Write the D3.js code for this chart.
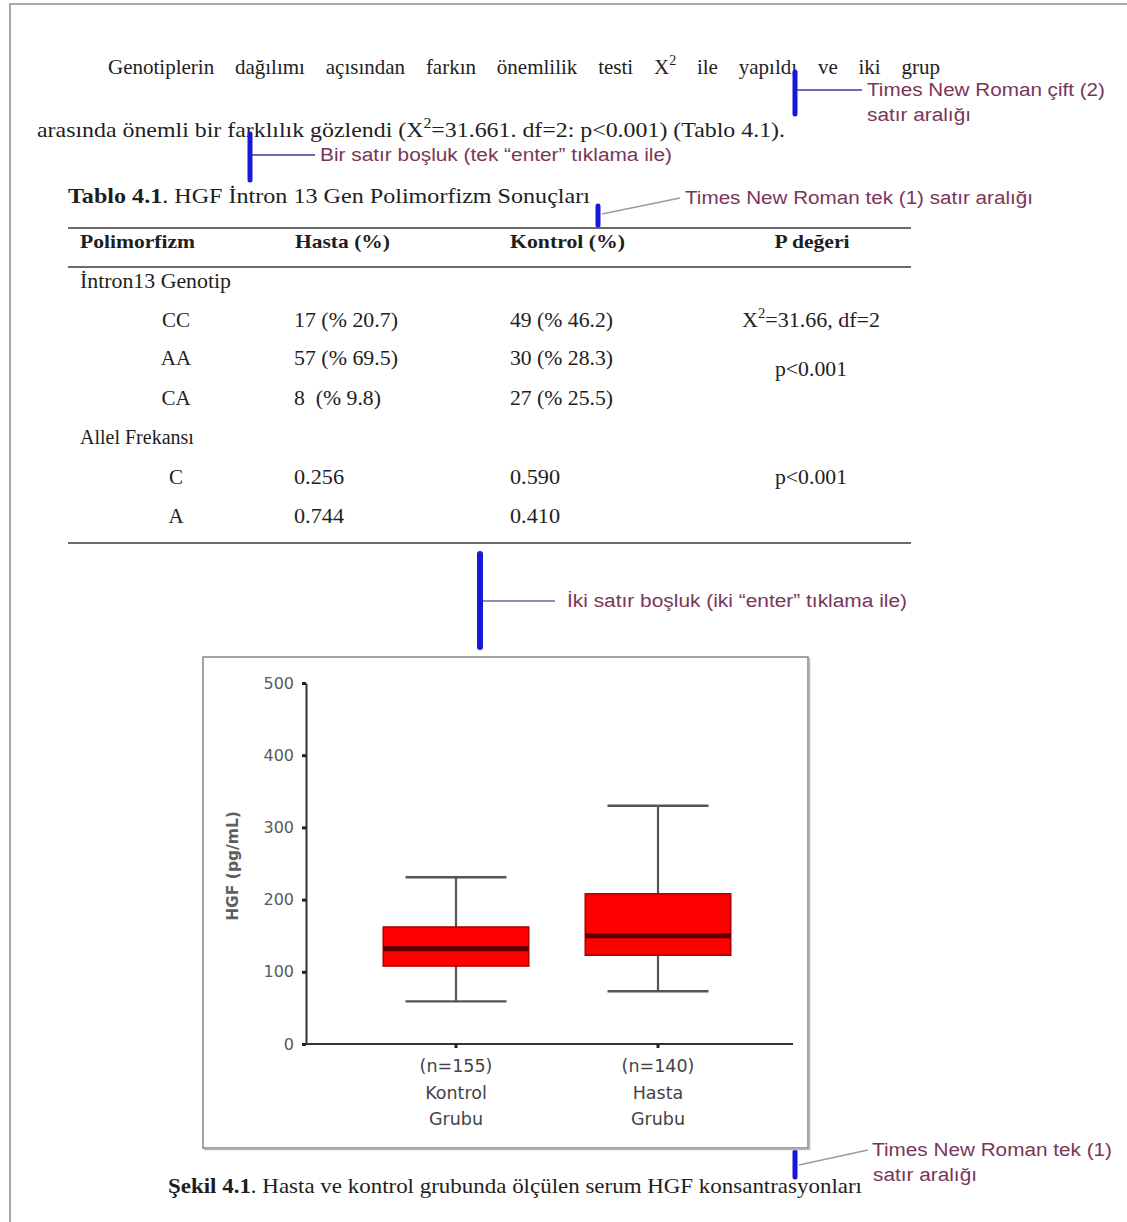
<!DOCTYPE html>
<html><head><meta charset="utf-8">
<script src="https://cdn.jsdelivr.net/npm/d3@7"></script>
<style>html,body{margin:0;padding:0;background:#fff;} svg{display:block}</style>
</head><body>
<svg id="page" width="1127" height="1222"></svg>
<script>
// ---------- data ----------
const groups = ["Kontrol Grubu", "Hasta Grubu"];
const groupLabels = [["(n=155)", "Kontrol", "Grubu"], ["(n=140)", "Hasta", "Grubu"]];
const whiskerLow = [59, 73];
const q1 = [108, 123];
const median = [132, 150];
const q3 = [162, 208];
const whiskerHigh = [231, 330];
const yTicks = [0, 100, 200, 300, 400, 500];
const yLabel = "HGF (pg/mL)";

const tableHeader = ["Polimorfizm", "Hasta (%)", "Kontrol (%)", "P değeri"];
const genotypes = ["CC", "AA", "CA"];
const genoHasta = ["17 (% 20.7)", "57 (% 69.5)", "8  (% 9.8)"];
const genoKontrol = ["49 (% 46.2)", "30 (% 28.3)", "27 (% 25.5)"];
const alleles = ["C", "A"];
const alleleHasta = ["0.256", "0.744"];
const alleleKontrol = ["0.590", "0.410"];

// ---------- helpers ----------
const svg = d3.select("#page");
const SERIF = "'Liberation Serif','Times New Roman',serif";
const SANS = "'Liberation Sans',Arial,sans-serif";
const CHART = "'DejaVu Sans',Verdana,sans-serif";
const ANN = "#7a3658";
const BLUE = "#1818d8";

function fit(sel, w) {
  const n = sel.node();
  const L = n.getComputedTextLength();
  if (L > 0) sel.attr("textLength", w).attr("lengthAdjust", "spacingAndGlyphs");
  return sel;
}
function txt(x, y, s, o = {}) {
  const t = svg.append("text").attr("x", x).attr("y", y)
    .attr("font-family", o.family || SERIF)
    .attr("font-size", o.size || 21)
    .attr("font-weight", o.weight || "normal")
    .attr("fill", o.fill || "#1e1e1e")
    .attr("text-anchor", o.anchor || "start")
    .style("white-space", "pre")
    .text(s);
  if (o.w) fit(t, o.w);
  return t;
}

// ---------- page border ----------
svg.append("path").attr("d", "M10,1222V4H1127").attr("fill", "none")
  .attr("stroke", "#a8a8a8").attr("stroke-width", 2);

// ---------- paragraph ----------
const l1 = svg.append("text").attr("x", 108).attr("y", 74)
  .attr("font-family", SERIF).attr("font-size", 21).attr("fill", "#1e1e1e");
l1.append("tspan").text("Genotiplerin dağılımı açısından farkın önemlilik testi X");
l1.append("tspan").attr("font-size", 14).attr("dy", -9).text("2");
l1.append("tspan").attr("dy", 9).text(" ile yapıldı ve iki grup");
{
  const L = l1.node().getComputedTextLength();
  const ws = Math.max(0, (832 - L) / 11);
  l1.attr("word-spacing", ws);
}
const l2 = svg.append("text").attr("x", 37).attr("y", 137)
  .attr("font-family", SERIF).attr("font-size", 21).attr("fill", "#1e1e1e");
l2.append("tspan").text("arasında önemli bir farklılık gözlendi (X");
l2.append("tspan").attr("font-size", 14).attr("dy", -9).text("2");
l2.append("tspan").attr("dy", 9).text("=31.661. df=2: p<0.001) (Tablo 4.1).");
fit(l2, 748);

// ---------- table title ----------
const tt = svg.append("text").attr("x", 68).attr("y", 203)
  .attr("font-family", SERIF).attr("font-size", 21).attr("fill", "#1e1e1e");
tt.append("tspan").attr("font-weight", "bold").text("Tablo 4.1");
tt.append("tspan").text(". HGF İntron 13 Gen Polimorfizm Sonuçları");
fit(tt, 522);

// ---------- table ----------
[228, 267, 543].forEach(y => svg.append("line").attr("x1", 68).attr("x2", 911)
  .attr("y1", y).attr("y2", y).attr("stroke", "#6a6a6a").attr("stroke-width", 2));

const colX = [80, 295, 510, 812];
txt(colX[0], 248, tableHeader[0], {weight: "bold", size: 19, w: 115});
txt(colX[1], 248, tableHeader[1], {weight: "bold", size: 19, w: 95});
txt(colX[2], 248, tableHeader[2], {weight: "bold", size: 19, w: 115});
txt(colX[3], 248, tableHeader[3], {weight: "bold", size: 19, anchor: "middle", w: 75});

txt(80, 288, "İntron13 Genotip", {size: 21, w: 151});
const genoY = [327, 365, 405];
genotypes.forEach((g, i) => {
  txt(176, genoY[i], g, {size: 21, anchor: "middle"});
  txt(294, genoY[i], genoHasta[i], {size: 21, w: i === 2 ? 87 : 104});
  txt(510, genoY[i], genoKontrol[i], {size: 21, w: 103});
});
{
  const t = svg.append("text").attr("x", 811).attr("y", 327).attr("text-anchor", "middle")
    .attr("font-family", SERIF).attr("font-size", 21).attr("fill", "#1e1e1e");
  t.append("tspan").text("X");
  t.append("tspan").attr("font-size", 14).attr("dy", -9).text("2");
  t.append("tspan").attr("dy", 9).text("=31.66, df=2");
  fit(t, 138);
}
txt(811, 376, "p<0.001", {size: 21, anchor: "middle", w: 72});
txt(80, 444, "Allel Frekansı", {size: 20});
const alleleY = [484, 523];
alleles.forEach((a, i) => {
  txt(176, alleleY[i], a, {size: 21, anchor: "middle"});
  txt(294, alleleY[i], alleleHasta[i], {size: 21, w: 50});
  txt(510, alleleY[i], alleleKontrol[i], {size: 21, w: 50});
});
txt(811, 484, "p<0.001", {size: 21, anchor: "middle", w: 72});

// ---------- annotations ----------
function bar(x, y1, y2, w) {
  svg.append("line").attr("x1", x).attr("x2", x).attr("y1", y1).attr("y2", y2)
    .attr("stroke", BLUE).attr("stroke-width", w || 5).attr("stroke-linecap", "round");
}
function conn(x1, y1, x2, y2, c) {
  svg.append("line").attr("x1", x1).attr("y1", y1).attr("x2", x2).attr("y2", y2)
    .attr("stroke", c || "#3a3aa0").attr("stroke-width", 1.3);
}
// 1
bar(795, 72, 114);
conn(797, 90, 862, 90);
txt(867, 96, "Times New Roman çift (2)", {family: SANS, size: 18, fill: ANN, w: 238});
txt(867, 121, "satır aralığı", {family: SANS, size: 18, fill: ANN, w: 104});
// 2
bar(250, 134, 180);
conn(252, 155, 315, 155);
txt(320, 161, "Bir satır boşluk (tek “enter” tıklama ile)", {family: SANS, size: 18, fill: ANN, w: 352});
// 3
bar(598, 206, 225);
conn(602, 214, 680, 198, "#9a9aa8");
txt(685, 204, "Times New Roman tek (1) satır aralığı", {family: SANS, size: 18, fill: ANN, w: 348});
// 4
bar(480, 554, 647, 6);
conn(483, 601, 555, 601, "#6a6aa0");
txt(567, 607, "İki satır boşluk (iki “enter” tıklama ile)", {family: SANS, size: 18, fill: ANN, w: 340});
// 5
bar(795, 1152, 1177);
conn(799, 1165, 868, 1150, "#9a9aa8");
txt(872, 1156, "Times New Roman tek (1)", {family: SANS, size: 18, fill: ANN, w: 240});
txt(873, 1181, "satır aralığı", {family: SANS, size: 18, fill: ANN, w: 104});

// ---------- chart frame ----------
svg.append("rect").attr("x", 203).attr("y", 657).attr("width", 605).attr("height", 491)
  .attr("fill", "#fff").attr("stroke", "#8c8c8c").attr("stroke-width", 1.6);
svg.append("path").attr("d", "M204,1149.5H809.5V658").attr("fill", "none")
  .attr("stroke", "#b8b8b8").attr("stroke-width", 1.5);

// ---------- chart ----------
const y = d3.scaleLinear().domain([0, 500]).range([1044, 683]);
const x = d3.scaleBand().domain(groups).range([355, 759]).padding(0);
const bw = x.bandwidth();
const cx = g => x(g) + bw / 2;

const yAxis = svg.append("g").attr("transform", "translate(306,0)")
  .call(d3.axisLeft(y).tickValues(yTicks).tickSize(4).tickSizeOuter(0).tickPadding(8));
yAxis.select(".domain").attr("stroke", "#333").attr("stroke-width", 2);
yAxis.selectAll(".tick line").attr("stroke", "#222").attr("stroke-width", 3);
yAxis.selectAll(".tick text").attr("font-family", CHART).attr("font-size", 16).attr("fill", "#5a5a5a");

const xAxis = svg.append("g").attr("transform", "translate(0,1044)")
  .call(d3.axisBottom(x).tickSize(4).tickSizeOuter(0));
xAxis.select(".domain").attr("d", "M306,0H793").attr("stroke", "#333").attr("stroke-width", 2);
xAxis.selectAll(".tick line").attr("stroke", "#222").attr("stroke-width", 3);
xAxis.selectAll(".tick text").remove();
xAxis.selectAll(".tick").each(function(d, i) {
  const t = d3.select(this).append("text").attr("fill", "#444")
    .attr("font-family", CHART).attr("font-size", 17.5).attr("text-anchor", "middle");
  groupLabels[i].forEach((s, j) => t.append("tspan").attr("x", 0).attr("y", 28 + j * 26.5).text(s));
});

svg.append("text").attr("transform", `translate(238,866) rotate(-90)`)
  .attr("text-anchor", "middle").attr("font-family", CHART).attr("font-size", 15.5)
  .attr("font-weight", "bold").attr("fill", "#5e5e5e").text(yLabel);

const boxes = svg.append("g").selectAll("g").data(groups).join("g");
// whiskers
boxes.append("line").attr("x1", cx).attr("x2", cx)
  .attr("y1", (d, i) => y(whiskerHigh[i])).attr("y2", (d, i) => y(whiskerLow[i]))
  .attr("stroke", "#555").attr("stroke-width", 2.2);
[whiskerHigh, whiskerLow].forEach(arr => boxes.append("line")
  .attr("x1", d => cx(d) - bw * 0.25).attr("x2", d => cx(d) + bw * 0.25)
  .attr("y1", (d, i) => y(arr[i])).attr("y2", (d, i) => y(arr[i]))
  .attr("stroke", "#555").attr("stroke-width", 2.4));
// boxes
boxes.append("rect").attr("x", d => cx(d) - bw * 0.36).attr("width", bw * 0.72)
  .attr("y", (d, i) => y(q3[i])).attr("height", (d, i) => y(q1[i]) - y(q3[i]))
  .attr("fill", "#ff0000").attr("stroke", "#b00000").attr("stroke-width", 1.6);
boxes.append("line").attr("x1", d => cx(d) - bw * 0.36).attr("x2", d => cx(d) + bw * 0.36)
  .attr("y1", (d, i) => y(median[i])).attr("y2", (d, i) => y(median[i]))
  .attr("stroke", "#5a0000").attr("stroke-width", 5);

// ---------- caption ----------
const cap = svg.append("text").attr("x", 168).attr("y", 1193)
  .attr("font-family", SERIF).attr("font-size", 21).attr("fill", "#1e1e1e");
cap.append("tspan").attr("font-weight", "bold").text("Şekil 4.1");
cap.append("tspan").text(". Hasta ve kontrol grubunda ölçülen serum HGF konsantrasyonları");
fit(cap, 694);
</script>
</body></html>
